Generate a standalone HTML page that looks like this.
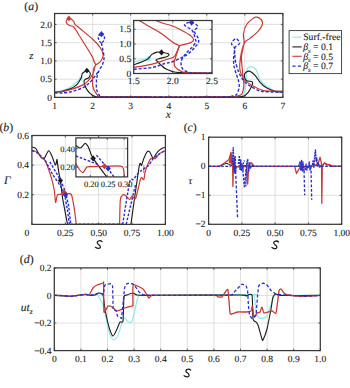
<!DOCTYPE html>
<html><head><meta charset="utf-8"><style>
html,body{margin:0;padding:0;background:#fff;}
svg{display:block;font-family:"Liberation Serif",serif;text-rendering:geometricPrecision;}
text{fill:#1c1c1c;stroke:#1c1c1c;stroke-width:0.12px;}
</style></head><body>
<svg width="350" height="388" viewBox="0 0 350 388">
<rect width="350" height="388" fill="#fff"/>
<line x1="92.7" y1="13.5" x2="92.7" y2="97.4" stroke="#d8d8d8" stroke-width="0.8"/>
<line x1="130.7" y1="13.5" x2="130.7" y2="97.4" stroke="#d8d8d8" stroke-width="0.8"/>
<line x1="168.8" y1="13.5" x2="168.8" y2="97.4" stroke="#d8d8d8" stroke-width="0.8"/>
<line x1="206.8" y1="13.5" x2="206.8" y2="97.4" stroke="#d8d8d8" stroke-width="0.8"/>
<line x1="244.8" y1="13.5" x2="244.8" y2="97.4" stroke="#d8d8d8" stroke-width="0.8"/>
<line x1="54.6" y1="79.2" x2="282.9" y2="79.2" stroke="#d8d8d8" stroke-width="0.8"/>
<line x1="54.6" y1="60.9" x2="282.9" y2="60.9" stroke="#d8d8d8" stroke-width="0.8"/>
<line x1="54.6" y1="42.7" x2="282.9" y2="42.7" stroke="#d8d8d8" stroke-width="0.8"/>
<line x1="54.6" y1="24.4" x2="282.9" y2="24.4" stroke="#d8d8d8" stroke-width="0.8"/>
<path d="M54.6 92.2C56 91.9 61.5 91 64 90.2C66.5 89.4 69.4 87.9 71.4 86.6C73.4 85.3 75.7 83 77.1 81.8C78.5 80.6 80.2 78.9 80.8 78.4" stroke="#8feaf0" stroke-width="1.4" fill="none" stroke-linejoin="round"/>
<path d="M78.6 78.6h4.4M80.8 76.4v4.4M79.2 77l3.2 3.2M79.2 80.2l3.2-3.2" stroke="#8feaf0" stroke-width="1.0" fill="none" stroke-linejoin="round"/>
<path d="M238 96.8C238.8 96.6 241.9 96.5 243 95.2C244.1 93.9 245 90.2 245.5 88C246 85.8 246 83.1 246.2 80.5C246.4 77.9 246.1 72.6 246.7 70.5C247.3 68.4 248.6 66.8 250 66.6C251.4 66.4 254.4 67.4 255.9 69.4C257.4 71.4 258.6 77.5 260.1 80C261.6 82.5 263.8 84.2 266 85.8C268.2 87.4 272.1 89.9 274.6 90.8C277.1 91.7 281.7 91.8 282.9 92" stroke="#8feaf0" stroke-width="1.3" fill="none" stroke-linejoin="round"/>
<path d="M54.6 92.3C55.7 92.1 59.6 91.7 62 91.2C64.4 90.7 68 89.9 70.3 88.9C72.6 87.9 75.5 85.9 77.1 84.3C78.7 82.7 80.3 79.6 81.1 78C81.9 76.4 81.8 74.6 82.3 73.6C82.8 72.6 83.9 72 84.6 71.6C85.3 71.1 86.2 70.5 86.9 70.6C87.7 70.7 89.1 71.4 89.6 72C90.1 72.6 90.5 73.6 90.3 74.5C90.1 75.4 89.3 77.1 88.6 77.8C87.9 78.5 86.4 78.6 85.7 79.1C85 79.6 84.2 80.1 84.1 81C84 81.9 84.3 83.6 84.8 85C85.3 86.4 86.3 88.9 87.4 90.4C88.5 91.9 90.7 94.1 92 95C93.3 95.9 94.3 96.4 96 96.7C97.7 97 94.9 96.9 103 96.9C111.1 96.9 142.9 96.9 150 96.9" stroke="#1c1c1c" stroke-width="1.15" fill="none" stroke-linejoin="round"/>
<path d="M200 96.9C205.4 96.9 229.5 96.9 236 96.8C242.5 96.7 241.6 96.9 243.4 96.3C245.2 95.7 246.8 94 248 92.6C249.2 91.2 250.6 88.4 251.3 87C252 85.6 252.6 84.1 252.7 83.3C252.8 82.5 252.8 81.9 251.8 81.5C250.8 81.1 247.3 81.5 246.2 80.5C245.1 79.5 244.3 76.3 244.3 75C244.3 73.7 245.7 72.6 246.5 72C247.3 71.4 248.6 70.7 249.9 71.3C251.2 71.9 254 74.2 255.5 75.9C257 77.6 258.5 80.6 260.1 82.4C261.7 84.2 263.8 86.2 266 87.6C268.2 88.9 272.1 90.7 274.6 91.4C277.1 92.1 281.7 92 282.9 92.1" stroke="#1c1c1c" stroke-width="1.15" fill="none" stroke-linejoin="round"/>
<path d="M54.6 92.3C55.6 92.2 59.6 92 62 91.6C64.4 91.2 68.5 90.3 71.4 89.4C74.3 88.5 80.5 86.2 82.9 84.9C85.3 83.6 87.2 81.9 88.6 80.3C90 78.7 92.2 75.3 93.1 73.4C94 71.5 94.6 67.9 94.9 66.6C95.2 65.3 95.7 64.6 95.6 64C95.5 63.4 94.9 63.3 94.4 62.2C93.9 61.1 93.4 58.8 92.1 56.4C90.8 54 87.2 48.2 85.2 45C83.2 41.8 79.5 35.8 78 33.5C76.5 31.2 75.5 29.3 74.8 28.3C74.1 27.3 73.5 26.7 72.8 26.3C72.1 25.9 70.4 26.1 69.5 25.6C68.6 25.1 66.6 23.5 66.3 22.6C66 21.7 66.8 19.8 67.4 19.2C68 18.6 69.6 18.3 70.5 18.6C71.4 18.9 72.9 20.4 73.6 21.2C74.3 22 74.3 23.6 75.2 24.6C76.1 25.6 77.5 26.4 80 28.5C82.5 30.6 90.1 36.8 93 39.5C95.9 42.2 99.1 45.8 100.5 48C101.9 50.2 103.2 53.6 103.2 55.5C103.2 57.4 101.5 60.2 100.5 61.5C99.5 62.8 97.1 63.7 96.2 64.6C95.3 65.5 94.4 66.7 94 68C93.6 69.3 93.2 71.6 93 74C92.8 76.4 92.4 82.6 92.6 84.9C92.8 87.2 93.6 89.2 94.3 90.6C95 92 96.5 94.2 97.7 95.1C98.9 96 94.3 96.5 103 96.7C111.7 96.9 152 96.8 160 96.8" stroke="#c83a36" stroke-width="1.2" fill="none" stroke-linejoin="round"/>
<path d="M160 96.8C169.8 96.8 213.9 96.7 225 96.7C236.1 96.7 231.7 97.1 234 96.8C236.3 96.5 239.2 95.6 240.5 95C241.8 94.4 242 94.1 242.5 92.6C243 91.1 243.8 87.4 243.9 85.2C244 83 243.5 80.6 243.2 78C242.9 75.4 242.5 71.3 242.2 68C241.9 64.7 241.2 59.8 241.5 56C241.8 52.2 243.8 46.1 244.1 42.8C244.4 39.5 243 36.8 243.4 34C243.8 31.2 245.2 26.5 247 24C248.8 21.5 253.4 17.8 255.6 17.2C257.8 16.6 260.5 18.8 261.5 20C262.5 21.2 262.6 23.7 262 25.5C261.4 27.3 259.3 29.9 257.5 31.8C255.7 33.7 251.9 36.8 250 38.4C248.1 40 245.9 40.4 244.6 42.6C243.3 44.8 242 49.8 241.3 53C240.6 56.2 240 61.3 239.8 64C239.6 66.7 239.5 69 240.2 71.3C240.9 73.6 242.6 77.5 244.3 79.6C246 81.7 248.9 83.5 251.8 85.2C254.7 86.9 259.1 89.7 263.8 90.6C268.5 91.5 280 91.1 282.9 91.2" stroke="#c83a36" stroke-width="1.2" fill="none" stroke-linejoin="round"/>
<path d="M54.6 92.9C55.6 92.9 59.6 93.2 62 93C64.4 92.8 68.5 92.4 71.4 91.7C74.3 91 80.3 89 82.9 87.7C85.5 86.4 88 84.3 89.7 82.6C91.5 80.9 94.1 77.4 95.4 75.7C96.7 74 98.4 71.2 98.9 70.5" stroke="#2d30c8" stroke-width="1.4" fill="none" stroke-linejoin="round" stroke-dasharray="3 1.8"/>
<path d="M101.4 43C97.3 40.5 97.3 34.2 101.4 33.4C105.5 34.2 105.5 40.5 101.4 43" stroke="#2d30c8" stroke-width="1.4" fill="none" stroke-linejoin="round" stroke-dasharray="2.6 1.5"/>
<path d="M101.4 43C101.7 44.3 103 50.4 103.4 52.6C103.8 54.8 104.2 57.1 104 58.9C103.8 60.6 103 63.4 102.3 65.1C101.6 66.8 99.7 68.9 98.9 70.9C98.1 72.9 96.9 76.5 96.6 79.1C96.3 81.7 96.2 87.2 96.6 89.4C97 91.6 98.4 94.1 99.4 95.1C100.4 96.1 95.5 96.5 104 96.8C112.5 97.1 152.2 96.9 160 96.9" stroke="#2d30c8" stroke-width="1.4" fill="none" stroke-linejoin="round" stroke-dasharray="3 1.8"/>
<path d="M160 96.9C169.9 96.9 215.2 96.9 226 96.8C236.8 96.7 230.1 96.5 231.7 96.2C233.3 95.9 235.4 95.9 236.5 94.5C237.6 93.1 238.9 89.2 239.2 87C239.5 84.8 238.8 82 238.3 80C237.9 78 236.8 76.1 236.2 74C235.6 71.9 234.4 68.4 234 66C233.6 63.6 233.5 60.6 233.6 58C233.7 55.4 234.9 50.7 234.6 48.5C234.3 46.3 231.3 45.1 231.5 43.6C231.7 42.1 234.6 38.7 235.8 38.6C237 38.5 239.7 41.9 239.6 43.2C239.5 44.5 235.7 45.9 235 47.5C234.3 49.1 234.7 51.8 234.8 54C234.9 56.2 235 59.3 235.6 62C236.2 64.7 237.7 69.6 238.6 72C239.5 74.4 240.5 76.1 241.6 77.8C242.7 79.5 244.7 81.9 246.2 83.3C247.7 84.7 249.6 85.8 251.8 87C254 88.2 257.8 90.5 261 91.2C264.2 92 269.6 91.9 272.9 92C276.2 92.1 281.4 92.1 282.9 92.1" stroke="#2d30c8" stroke-width="1.4" fill="none" stroke-linejoin="round" stroke-dasharray="3 1.8"/>
<path d="M68.9 15.5L71.4 18.4L68.9 21.3L66.4 18.4Z" fill="#c83a36"/>
<path d="M101.4 31.1L104.1 34.2L101.4 37.3L98.7 34.2Z" fill="#2d30c8"/>
<path d="M86.9 67.7L89.4 70.6L86.9 73.5L84.4 70.6Z" fill="#1c1c1c"/>
<path d="M54.6 97.4v-2M54.6 13.5v2M92.7 97.4v-2M92.7 13.5v2M130.7 97.4v-2M130.7 13.5v2M168.8 97.4v-2M168.8 13.5v2M206.8 97.4v-2M206.8 13.5v2M244.8 97.4v-2M244.8 13.5v2M282.9 97.4v-2M282.9 13.5v2M54.6 97.4h2M282.9 97.4h-2M54.6 79.2h2M282.9 79.2h-2M54.6 60.9h2M282.9 60.9h-2M54.6 42.7h2M282.9 42.7h-2M54.6 24.4h2M282.9 24.4h-2" stroke="#383838" stroke-width="0.8" fill="none"/>
<rect x="54.6" y="13.5" width="228.3" height="83.9" fill="none" stroke="#383838" stroke-width="1.25"/>
<text x="54.6" y="109.4" text-anchor="middle" font-size="9.5" >1</text>
<text x="92.7" y="109.4" text-anchor="middle" font-size="9.5" >2</text>
<text x="130.7" y="109.4" text-anchor="middle" font-size="9.5" >3</text>
<text x="168.8" y="109.4" text-anchor="middle" font-size="9.5" >4</text>
<text x="206.8" y="109.4" text-anchor="middle" font-size="9.5" >5</text>
<text x="244.8" y="109.4" text-anchor="middle" font-size="9.5" >6</text>
<text x="282.9" y="109.4" text-anchor="middle" font-size="9.5" >7</text>
<text x="52" y="100.5" text-anchor="end" font-size="9.5" >0</text>
<text x="52" y="82.2" text-anchor="end" font-size="9.5" >0.5</text>
<text x="52" y="64" text-anchor="end" font-size="9.5" >1.0</text>
<text x="52" y="45.8" text-anchor="end" font-size="9.5" >1.5</text>
<text x="52" y="27.5" text-anchor="end" font-size="9.5" >2.0</text>
<text x="168.3" y="118" text-anchor="middle" font-size="11.5" font-style="italic">x</text>
<text x="31.4" y="58.8" text-anchor="middle" font-size="10.8" font-style="italic">z</text>
<text x="31.2" y="10.4" text-anchor="middle" font-size="11.8">(<tspan font-style="italic">a</tspan>)</text>
<rect x="133.7" y="20.5" width="78.3" height="53" fill="#fff"/>
<line x1="172.8" y1="20.5" x2="172.8" y2="73.5" stroke="#d8d8d8" stroke-width="0.8"/>
<line x1="133.7" y1="58.8" x2="212" y2="58.8" stroke="#d8d8d8" stroke-width="0.8"/>
<line x1="133.7" y1="44" x2="212" y2="44" stroke="#d8d8d8" stroke-width="0.8"/>
<line x1="133.7" y1="29.3" x2="212" y2="29.3" stroke="#d8d8d8" stroke-width="0.8"/>
<path d="M133.9 61.8C135.7 61.4 142 59.9 144.4 59.4C146.8 58.9 147.7 59 148.4 58.9" stroke="#8feaf0" stroke-width="1.25" fill="none" stroke-linejoin="round"/>
<path d="M145.6 58.9h5.6M148.4 56.1v5.6M146.4 56.9l4 4M146.4 60.9l4-4" stroke="#8feaf0" stroke-width="1.1" fill="none" stroke-linejoin="round"/>
<path d="M133.9 64.6C135.3 64.1 139.8 62.8 142.1 61.8C144.4 60.8 146.3 60.1 147.9 58.9C149.5 57.7 150.4 55.5 151.9 54.4C153.4 53.3 155.4 52.5 157 52.1C158.6 51.8 159.7 52 161.6 52.3C163.5 52.6 167.6 53.3 168.6 54C169.6 54.7 168.7 55.9 167.3 56.6C165.9 57.3 161.9 57.8 160 58.4C158.1 59 156.3 59.4 156 60C155.7 60.6 157 61 158 62C159 63 160.7 64.8 162 66C163.3 67.2 164.4 68.2 166.1 69.1C167.8 70 169.7 70.8 172 71.4C174.3 72 173.3 72.3 180 72.6C186.7 72.9 206.7 73 212 73.1" stroke="#1c1c1c" stroke-width="1.15" fill="none" stroke-linejoin="round"/>
<path d="M133.9 67.4C135.8 67.1 141.3 66.3 145 65.6C148.7 64.9 152.6 64.1 155.9 63.2C159.2 62.3 162.1 61 165 60C167.9 59 171.5 58.3 173.4 57.2C175.3 56.1 175.4 54.8 176.2 53.4C177 52 177.7 49.9 178.3 48.6C178.9 47.3 179.5 46.3 179.7 45.8" stroke="#c83a36" stroke-width="1.2" fill="none" stroke-linejoin="round"/>
<path d="M139.3 20.5C141.1 21.6 146.2 24.8 150 27C153.8 29.2 158.2 31.4 162 34C165.8 36.6 170.5 40.7 173 42.4C175.5 44.1 175.8 43.6 176.9 44.2C178 44.8 179.1 45.6 179.5 45.9" stroke="#c83a36" stroke-width="1.2" fill="none" stroke-linejoin="round"/>
<path d="M155.3 20.5C156.6 20.9 160.2 22.3 163 23.2C165.8 24.1 169.1 24.7 172 25.8C174.9 26.9 177.4 28.2 180.4 29.8C183.4 31.4 187.9 33.7 190.1 35.3C192.3 36.9 193.4 38.3 193.6 39.5C193.8 40.7 193 41.5 191.5 42.3C190 43.1 186.5 43.8 184.5 44.4C182.5 45 180.8 44.9 179.7 45.8C178.6 46.7 178.7 48 178 50C177.3 52 176.2 55.4 175.5 57.6C174.8 59.8 174.1 61.6 174.1 63.2C174.1 64.8 174.4 66.1 175.5 67.4C176.6 68.7 178.4 70 180.4 70.9C182.4 71.8 182 72.3 187.3 72.7C192.6 73.1 207.9 73.1 212 73.2" stroke="#c83a36" stroke-width="1.2" fill="none" stroke-linejoin="round"/>
<path d="M133.9 69.2C137 68.9 147.2 68.4 152.4 67.4C157.6 66.5 161.7 64.4 165 63.5C168.3 62.6 169.2 62.8 172 61.8C174.8 60.8 179.2 58.8 182 57.4C184.8 56 186.6 55 188.7 53.4C190.8 51.8 192.7 49.8 194.3 47.9C195.9 46 197.9 44 198.5 42.3C199.1 40.5 198.5 39.3 197.8 37.4C197.1 35.5 194.3 33 194.3 31.1C194.3 29.2 198.3 27.8 197.8 26.3C197.3 24.8 193.7 22.5 191.5 22.3C189.3 22.1 184.4 23.5 184.5 24.9C184.6 26.3 190.4 28.3 192.2 30.5C193.9 32.7 194.4 36.1 195 38.1C195.6 40.1 196.3 40.7 195.7 42.3C195.1 43.9 193.1 46 191.5 47.9C189.9 49.8 187.5 51.4 185.9 53.4C184.3 55.4 182.6 57.8 181.8 59.7C181 61.6 180.9 63 181.1 64.6C181.3 66.2 181.8 68.2 183.1 69.5C184.4 70.8 186.7 71.7 188.7 72.3C190.7 72.9 191.1 72.9 195 73.1C198.9 73.2 209.2 73.2 212 73.2" stroke="#2d30c8" stroke-width="1.4" fill="none" stroke-linejoin="round" stroke-dasharray="3 1.8"/>
<path d="M191.6 19.5L194.3 22.6L191.6 25.7L188.9 22.6Z" fill="#2d30c8"/>
<path d="M161.5 49.3L164.2 52.4L161.5 55.5L158.8 52.4Z" fill="#1c1c1c"/>
<path d="M133.7 73.5v-2M133.7 20.5v2M172.8 73.5v-2M172.8 20.5v2M212 73.5v-2M212 20.5v2M133.7 73.5h2M212 73.5h-2M133.7 58.8h2M212 58.8h-2M133.7 44h2M212 44h-2M133.7 29.3h2M212 29.3h-2" stroke="#383838" stroke-width="0.8" fill="none"/>
<rect x="133.7" y="20.5" width="78.3" height="53" fill="none" stroke="#383838" stroke-width="1.25"/>
<text x="133.7" y="84" text-anchor="middle" font-size="9.5" >1.5</text>
<text x="172.8" y="84" text-anchor="middle" font-size="9.5" >2.0</text>
<text x="212" y="84" text-anchor="middle" font-size="9.5" >2.5</text>
<text x="131.2" y="76.6" text-anchor="end" font-size="9.5" >0</text>
<text x="131.2" y="61.9" text-anchor="end" font-size="9.5" >0.5</text>
<text x="131.2" y="47.1" text-anchor="end" font-size="9.5" >1.0</text>
<text x="131.2" y="32.4" text-anchor="end" font-size="9.5" >1.5</text>
<rect x="289.1" y="30.6" width="52.5" height="43" fill="#fff" stroke="#383838" stroke-width="0.9"/>
<line x1="292.4" y1="37.2" x2="301.7" y2="37.2" stroke="#8ee8ee" stroke-width="1.1"/>
<text x="303.2" y="40.4" text-anchor="start" font-size="9.7" >Surf.-free</text>
<line x1="292.4" y1="46.9" x2="301.7" y2="46.9" stroke="#1e1e1e" stroke-width="1.1"/>
<text x="303.2" y="50.1" font-size="9.7"><tspan font-style="italic">β</tspan><tspan font-style="italic" font-size="6.8" dy="2.4">s</tspan><tspan dy="-2.4"> = 0.1</tspan></text>
<line x1="292.4" y1="56.3" x2="301.7" y2="56.3" stroke="#cf3a36" stroke-width="1.1"/>
<text x="303.2" y="59.5" font-size="9.7"><tspan font-style="italic">β</tspan><tspan font-style="italic" font-size="6.8" dy="2.4">s</tspan><tspan dy="-2.4"> = 0.5</tspan></text>
<line x1="292.4" y1="66.1" x2="301.7" y2="66.1" stroke="#2b2fd6" stroke-width="1.1" stroke-dasharray="3.2 2.2"/>
<text x="303.2" y="69.3" font-size="9.7"><tspan font-style="italic">β</tspan><tspan font-style="italic" font-size="6.8" dy="2.4">s</tspan><tspan dy="-2.4"> = 0.7</tspan></text>
<line x1="65.3" y1="135.5" x2="65.3" y2="224.4" stroke="#d8d8d8" stroke-width="0.8"/>
<line x1="98.7" y1="135.5" x2="98.7" y2="224.4" stroke="#d8d8d8" stroke-width="0.8"/>
<line x1="132" y1="135.5" x2="132" y2="224.4" stroke="#d8d8d8" stroke-width="0.8"/>
<line x1="31.9" y1="194.8" x2="165.4" y2="194.8" stroke="#d8d8d8" stroke-width="0.8"/>
<line x1="31.9" y1="165.1" x2="165.4" y2="165.1" stroke="#d8d8d8" stroke-width="0.8"/>
<path d="M32 147.1C32.4 147.3 34.8 147.5 35.7 148.4C36.6 149.3 38.4 153.2 39.3 154.5C40.2 155.8 42.5 159.4 43.6 159C44.7 158.6 47.6 151.2 48.6 150.8C49.6 150.4 51.1 154.3 51.9 156C52.7 157.7 54.7 164.6 55.3 165C55.9 165.4 56.8 160.1 57 159.4L57 159.4L58.7 171.9L60.4 180.4L62.7 199L67.5 224.3" stroke="#1c1c1c" stroke-width="1.15" fill="none" stroke-linejoin="round"/>
<path d="M130.9 224.3C131.4 220.8 134 201.9 135 195C136 188.1 138.5 170.5 139.1 166.7C139.7 162.9 140 163.3 140.3 163.2C140.6 163.1 141.1 166.1 141.5 165.5C141.9 164.9 143.3 159.7 144 158C144.7 156.3 146.6 152.3 147.3 151.6C148 150.9 149 151.1 149.7 151.9C150.4 152.7 152.4 158 153.2 158.3C154 158.6 155.3 155 156 154C156.7 153 158.3 151 159.1 150.3C159.9 149.6 161.9 148.2 162.6 147.9C163.3 147.6 164.9 147.5 165.2 147.5" stroke="#1c1c1c" stroke-width="1.1" fill="none" stroke-linejoin="round"/>
<path d="M32 150C32.5 150.2 36.2 151.3 37.1 152.1C38 152.9 40.7 157.2 41.4 157.9C42.1 158.6 43.6 158.3 44.3 159.4C45 160.5 47.8 167 48.5 169C49.2 171 51.2 177.3 51.8 179.4C52.4 181.5 53.8 187.7 54.2 190C54.6 192.3 55.3 202 55.6 202.5C55.9 203 56.9 195.8 57.3 195C57.7 194.2 59.3 194.4 60 194.3C60.7 194.2 63.5 194.1 64.6 194.1C65.7 194.1 70.3 192.8 71.3 194.3C72.3 195.8 73.8 205.8 74.3 208.8C74.8 211.8 76.1 222.8 76.3 224.3" stroke="#c83a36" stroke-width="1.2" fill="none" stroke-linejoin="round"/>
<path d="M76.3 224.3L120.7 224.3" stroke="#c83a36" stroke-width="1.2" fill="none" stroke-linejoin="round"/>
<path d="M119.6 224.3C119.7 221.4 119.9 203.5 120.3 200C120.7 196.5 122 195.4 122.7 194.9C123.4 194.4 125.2 195.4 126 196C126.8 196.6 129 199.6 129.7 199.6C130.4 199.6 131.4 196.1 132.1 196C132.8 195.9 134.6 200.4 135.6 198.4C136.6 196.4 139.6 182.1 140.3 179.6C141 177.1 141.1 177.3 141.5 177.3C141.9 177.3 143.4 180.2 143.8 179.6C144.2 179 144.6 174.3 145 172.6C145.4 170.9 146.6 167.2 147.3 165.5C148 163.8 149.9 159.3 150.9 158.5C151.9 157.7 154.6 159.1 155.6 158.5C156.6 157.9 157.9 154.7 159.1 153.8C160.3 152.9 164.5 151.2 165.2 150.8" stroke="#c83a36" stroke-width="1.2" fill="none" stroke-linejoin="round"/>
<path d="M143.8 165.5L143.8 173" stroke="#c83a36" stroke-width="0.8" fill="none" stroke-linejoin="round"/>
<path d="M32 150.7C32.4 150.9 36.1 152.2 37.1 152.9C38.1 153.6 43.7 158.1 44.9 159.8C46.1 161.5 51.4 172.4 52.7 174.5C54 176.6 59.7 184.7 60.6 186.3C61.5 187.9 63.9 192.1 64.5 194.1C65.1 196.1 67.1 208.4 67.5 210.8C67.9 213.2 69.2 223.2 69.4 224.3" stroke="#2d30c8" stroke-width="1.4" fill="none" stroke-linejoin="round" stroke-dasharray="2.6 1.6"/>
<path d="M49.8 161.8L56.7 173.5L61.6 182.4L65.5 192.2L68.5 205L70.8 224.3" stroke="#2d30c8" stroke-width="1.4" fill="none" stroke-linejoin="round" stroke-dasharray="2.6 1.6"/>
<path d="M70.3 224.3L124.3 224.3" stroke="#2d30c8" stroke-width="1.4" fill="none" stroke-linejoin="round" stroke-dasharray="2.6 1.6"/>
<path d="M122.7 224.3C123.5 219.2 128.4 187.4 129.7 182C131 176.6 132.4 180.5 133.3 179.6C134.2 178.7 135.8 176.1 136.8 174.9C137.8 173.7 140.6 171.1 142 170C143.4 168.9 147.2 166.9 148.5 165.5C149.8 164.1 152.1 159.8 153.2 158.5C154.3 157.2 156.6 156 158 155C159.4 154 164.3 150.8 165.2 150.2" stroke="#2d30c8" stroke-width="1.4" fill="none" stroke-linejoin="round" stroke-dasharray="2.6 1.6"/>
<path d="M126.2 224.3L135.6 184.3" stroke="#2d30c8" stroke-width="1.4" fill="none" stroke-linejoin="round" stroke-dasharray="2.6 1.6"/>
<path d="M60.4 177.5L63 180.5L60.4 183.5L57.8 180.5Z" fill="#1c1c1c"/>
<path d="M64.4 189.8L67 192.8L64.4 195.8L61.8 192.8Z" fill="#c83a36"/>
<path d="M65.5 192.1L68.1 195.1L65.5 198.1L62.9 195.1Z" fill="#2d30c8"/>
<path d="M31.9 224.4v-2M31.9 135.5v2M65.3 224.4v-2M65.3 135.5v2M98.7 224.4v-2M98.7 135.5v2M132 224.4v-2M132 135.5v2M165.4 224.4v-2M165.4 135.5v2M31.9 224.4h2M165.4 224.4h-2M31.9 194.8h2M165.4 194.8h-2M31.9 165.1h2M165.4 165.1h-2M31.9 135.5h2M165.4 135.5h-2" stroke="#383838" stroke-width="0.8" fill="none"/>
<rect x="31.9" y="135.5" width="133.5" height="88.9" fill="none" stroke="#383838" stroke-width="1.25"/>
<text x="26.9" y="236.4" text-anchor="middle" font-size="9.5" >0</text>
<text x="65.3" y="236.4" text-anchor="middle" font-size="9.5" >0.25</text>
<text x="98.7" y="236.4" text-anchor="middle" font-size="9.5" >0.50</text>
<text x="132" y="236.4" text-anchor="middle" font-size="9.5" >0.75</text>
<text x="165.4" y="236.4" text-anchor="middle" font-size="9.5" >1.00</text>
<text x="29" y="197.9" text-anchor="end" font-size="9.5" >0.2</text>
<text x="29" y="168.2" text-anchor="end" font-size="9.5" >0.4</text>
<text x="29" y="138.6" text-anchor="end" font-size="9.5" >0.6</text>
<text x="7.2" y="184" text-anchor="middle" font-size="11.5" font-style="italic">Γ</text>
<text x="6.3" y="131.2" text-anchor="middle" font-size="11.8">(<tspan font-style="italic">b</tspan>)</text>
<rect x="75.9" y="137.9" width="51.7" height="39" fill="#fff"/>
<line x1="90.3" y1="137.9" x2="90.3" y2="176.9" stroke="#d8d8d8" stroke-width="0.8"/>
<line x1="107.2" y1="137.9" x2="107.2" y2="176.9" stroke="#d8d8d8" stroke-width="0.8"/>
<line x1="124.1" y1="137.9" x2="124.1" y2="176.9" stroke="#d8d8d8" stroke-width="0.8"/>
<line x1="75.9" y1="148.7" x2="127.6" y2="148.7" stroke="#d8d8d8" stroke-width="0.8"/>
<line x1="75.9" y1="167" x2="127.6" y2="167" stroke="#d8d8d8" stroke-width="0.8"/>
<path d="M75.9 145.6C76.7 146 78.9 148.4 80.4 148C82 147.6 83.9 143.5 85.2 143.4C86.5 143.3 87.1 144.7 88.4 147.2C89.7 149.7 90.1 153.4 93.2 158.4C96.3 163.4 104.5 173.8 106.8 176.9" stroke="#1c1c1c" stroke-width="1.15" fill="none" stroke-linejoin="round"/>
<path d="M75.9 163.5C76.2 164.1 78 167.4 78.8 168.5C79.6 169.6 81.9 172.6 82.8 172.6C83.7 172.6 85.3 168.9 86 168.2C86.7 167.5 86.1 166.8 88.4 166.6C90.7 166.4 101.2 166.4 105.2 166.4C109.2 166.4 119.7 165.1 122 166.4C124.3 167.7 124.1 175.6 124.4 176.9" stroke="#c83a36" stroke-width="1.2" fill="none" stroke-linejoin="round"/>
<path d="M75.9 156L98 164.5" stroke="#2d30c8" stroke-width="1.4" fill="none" stroke-linejoin="round" stroke-dasharray="2.6 1.6"/>
<path d="M96.4 155.2L107.6 168L114 176.9" stroke="#2d30c8" stroke-width="1.4" fill="none" stroke-linejoin="round" stroke-dasharray="2.6 1.6"/>
<path d="M93.2 155.3L95.9 158.4L93.2 161.5L90.5 158.4Z" fill="#1c1c1c"/>
<path d="M104.4 163.3L107 166.3L104.4 169.3L101.8 166.3Z" fill="#c83a36"/>
<path d="M108.2 165.4L110.8 168.4L108.2 171.4L105.6 168.4Z" fill="#2d30c8"/>
<path d="M90.3 176.9v-2M90.3 137.9v2M107.2 176.9v-2M107.2 137.9v2M124.1 176.9v-2M124.1 137.9v2M75.9 148.7h2M127.6 148.7h-2M75.9 167h2M127.6 167h-2" stroke="#383838" stroke-width="0.8" fill="none"/>
<rect x="75.9" y="137.9" width="51.7" height="39" fill="none" stroke="#383838" stroke-width="1.25"/>
<text x="91.3" y="187" text-anchor="middle" font-size="8.4" >0.20</text>
<text x="108.2" y="187" text-anchor="middle" font-size="8.4" >0.25</text>
<text x="125.1" y="187" text-anchor="middle" font-size="8.4" >0.30</text>
<text x="74.9" y="151.8" text-anchor="end" font-size="8.4" >0.40</text>
<text x="74.9" y="170.1" text-anchor="end" font-size="8.4" >0.20</text>
<line x1="241.9" y1="137.2" x2="241.9" y2="224.3" stroke="#d8d8d8" stroke-width="0.8"/>
<line x1="275.1" y1="137.2" x2="275.1" y2="224.3" stroke="#d8d8d8" stroke-width="0.8"/>
<line x1="308.4" y1="137.2" x2="308.4" y2="224.3" stroke="#d8d8d8" stroke-width="0.8"/>
<line x1="208.6" y1="195.3" x2="341.7" y2="195.3" stroke="#d8d8d8" stroke-width="0.8"/>
<line x1="208.6" y1="166.2" x2="341.7" y2="166.2" stroke="#d8d8d8" stroke-width="0.8"/>
<path d="M208.6 166.3C210.2 166.3 215.8 166.5 218 166.3C220.2 166.1 220.7 165.7 222 165.2C223.3 164.7 224.7 163.6 226 163.5C227.3 163.4 228.8 164.4 230 164.8C231.2 165.2 231.3 165.6 233 166C234.7 166.4 238 167.1 240 167C242 166.9 243.3 165.6 245 165.5C246.7 165.4 248.3 166.4 250 166.5C251.7 166.6 247 166.3 255 166.3C263 166.3 289.7 166.3 298 166.3C306.3 166.3 302.2 166.6 305 166.5C307.8 166.4 312.5 165.6 315 165.5C317.5 165.4 318.3 166.3 320 166C321.7 165.7 323.3 163.6 325 163.5C326.7 163.4 328.3 165.1 330 165.5C331.7 165.9 333.1 166.1 335 166.2C336.9 166.3 340.6 166.3 341.7 166.3" stroke="#1c1c1c" stroke-width="1.0" fill="none" stroke-linejoin="round"/>
<path d="M208.6 166.3L219 166.3L222 164.5L225.2 162.6L229 159.4L231 152.3L232.3 160L232.6 166.3L232.9 186.5L233.4 166.3L236 167L240 165.5L244 167L246.5 166L247.2 176L247.7 184L248.5 170L249.5 165L251 162.6L252.5 164L254.2 166.3L294.7 166.3L296.5 173.5L300.1 167.1L303 166.3L310 166.5L314 165.5L318 164L320 157.2L321.2 162L321.6 166.3L321.8 203.3L322.3 166.3L324.5 162.6L326.5 165L329.1 164.4L333 166.3L341.7 166.3" stroke="#c83a36" stroke-width="1.3" fill="none" stroke-linejoin="round"/>
<path d="M228.6 163L231 152L232.6 164Z" fill="#c83a36"/>
<path d="M208.6 166.3L230 166.3" stroke="#2d30c8" stroke-width="1.2" fill="none" stroke-linejoin="round" stroke-dasharray="2.6 1.6"/>
<path d="M252 166.3L298.5 166.3" stroke="#2d30c8" stroke-width="1.2" fill="none" stroke-linejoin="round" stroke-dasharray="2.6 1.6"/>
<path d="M321 166.3L341.7 166.3" stroke="#2d30c8" stroke-width="1.2" fill="none" stroke-linejoin="round" stroke-dasharray="2.6 1.6"/>
<path d="M230 166.3L232 165L233.3 147.7L233.8 170L234.3 158L234.7 173L235.2 156L235.7 172L236.2 166.3" stroke="#2d30c8" stroke-width="1.4" fill="none" stroke-linejoin="round" stroke-dasharray="2 0.7"/>
<path d="M238.3 164L239.4 155.5L240 170L240.8 160L241.3 171L242 164L243 170L243.6 162L244.5 160.5" stroke="#2d30c8" stroke-width="1.3" fill="none" stroke-linejoin="round" stroke-dasharray="2 1"/>
<path d="M245.8 186.5L246.7 163L247.7 159.4L248.6 172L249.5 163L250.5 168L252 165L254 166.3" stroke="#2d30c8" stroke-width="1.4" fill="none" stroke-linejoin="round" stroke-dasharray="2 0.7"/>
<path d="M298.5 166.3L300 162L300.8 170L301.5 160.5L302.3 171L303 162L303.6 168L304.2 172" stroke="#2d30c8" stroke-width="1.4" fill="none" stroke-linejoin="round" stroke-dasharray="2 0.7"/>
<path d="M305.3 170L306 164L306.8 170L307.6 166L308.5 168L309.3 162L310 170L311 166" stroke="#2d30c8" stroke-width="1.4" fill="none" stroke-linejoin="round" stroke-dasharray="2 0.7"/>
<path d="M312.4 165L313.2 160L313.8 168L314.6 156L315.5 150L316.1 162L316.8 158L317.5 166L318.5 163L319.5 167L321 166.3" stroke="#2d30c8" stroke-width="1.4" fill="none" stroke-linejoin="round" stroke-dasharray="2 0.7"/>
<path d="M235.4 166.3L237.6 218.6" stroke="#2d30c8" stroke-width="1.35" fill="none" stroke-linejoin="round" stroke-dasharray="3 1.8"/>
<path d="M242.5 166L244.3 186.8L246.5 166" stroke="#2d30c8" stroke-width="1.35" fill="none" stroke-linejoin="round" stroke-dasharray="2.6 1.4"/>
<path d="M303.9 166L304.7 195.2" stroke="#2d30c8" stroke-width="1.35" fill="none" stroke-linejoin="round" stroke-dasharray="2.8 1.8"/>
<path d="M310.9 166L311.7 199.7" stroke="#2d30c8" stroke-width="1.35" fill="none" stroke-linejoin="round" stroke-dasharray="2.8 1.8"/>
<path d="M208.6 224.3v-2M208.6 137.2v2M241.9 224.3v-2M241.9 137.2v2M275.1 224.3v-2M275.1 137.2v2M308.4 224.3v-2M308.4 137.2v2M341.7 224.3v-2M341.7 137.2v2M208.6 224.3h2M341.7 224.3h-2M208.6 195.3h2M341.7 195.3h-2M208.6 166.2h2M341.7 166.2h-2M208.6 137.2h2M341.7 137.2h-2" stroke="#383838" stroke-width="0.8" fill="none"/>
<rect x="208.6" y="137.2" width="133.1" height="87.1" fill="none" stroke="#383838" stroke-width="1.25"/>
<text x="208.6" y="236.4" text-anchor="middle" font-size="9.5" >0</text>
<text x="241.9" y="236.4" text-anchor="middle" font-size="9.5" >0.25</text>
<text x="275.1" y="236.4" text-anchor="middle" font-size="9.5" >0.50</text>
<text x="308.4" y="236.4" text-anchor="middle" font-size="9.5" >0.75</text>
<text x="341.7" y="236.4" text-anchor="middle" font-size="9.5" >1.00</text>
<text x="205.5" y="227.4" text-anchor="end" font-size="9.5" >−2</text>
<text x="205.5" y="198.4" text-anchor="end" font-size="9.5" >−1</text>
<text x="205.5" y="169.3" text-anchor="end" font-size="9.5" >0</text>
<text x="205.5" y="140.3" text-anchor="end" font-size="9.5" >1</text>
<text x="190.3" y="183.5" text-anchor="middle" font-size="10" font-style="italic">τ</text>
<text x="190.2" y="131.4" text-anchor="middle" font-size="11.8">(<tspan font-style="italic">c</tspan>)</text>
<line x1="80.9" y1="267.9" x2="80.9" y2="350.6" stroke="#d8d8d8" stroke-width="0.8"/>
<line x1="107.5" y1="267.9" x2="107.5" y2="350.6" stroke="#d8d8d8" stroke-width="0.8"/>
<line x1="134.1" y1="267.9" x2="134.1" y2="350.6" stroke="#d8d8d8" stroke-width="0.8"/>
<line x1="160.7" y1="267.9" x2="160.7" y2="350.6" stroke="#d8d8d8" stroke-width="0.8"/>
<line x1="187.3" y1="267.9" x2="187.3" y2="350.6" stroke="#d8d8d8" stroke-width="0.8"/>
<line x1="213.9" y1="267.9" x2="213.9" y2="350.6" stroke="#d8d8d8" stroke-width="0.8"/>
<line x1="240.5" y1="267.9" x2="240.5" y2="350.6" stroke="#d8d8d8" stroke-width="0.8"/>
<line x1="267.1" y1="267.9" x2="267.1" y2="350.6" stroke="#d8d8d8" stroke-width="0.8"/>
<line x1="293.7" y1="267.9" x2="293.7" y2="350.6" stroke="#d8d8d8" stroke-width="0.8"/>
<line x1="54.3" y1="323" x2="320.3" y2="323" stroke="#d8d8d8" stroke-width="0.8"/>
<line x1="54.3" y1="295.5" x2="320.3" y2="295.5" stroke="#d8d8d8" stroke-width="0.8"/>
<path d="M54.3 295.4C55.2 295.4 60.2 295.5 62 295.6C63.8 295.7 67.8 296.3 69.7 296.3C71.6 296.3 76.1 295.6 78 295.4C79.9 295.2 84 294.4 85.4 294.4C86.8 294.4 88.7 295 90 295C91.3 295 94.9 293.8 96 294C97.1 294.2 98.2 295.7 99 297C99.8 298.3 102 301.9 103 305C104 308.1 106.2 319.4 107 323C107.8 326.6 109.2 333 110 335C110.8 337 113 340 114 340C115 340 117 337 118 335C119 333 121.2 325 122 323C122.8 321 124.3 318.1 125 318C125.7 317.9 127.2 321.6 128 322C128.8 322.4 131 323 132 321C133 319 135.2 308.1 136 305C136.8 301.9 137.3 296.4 139 295.2C140.7 294 136.7 295.5 150 295.4C163.3 295.3 237.5 294.6 250 294.6C262.5 294.6 253.3 293.2 254 295C254.7 296.8 255.4 307.2 256 310C256.6 312.8 257.8 317.2 259 318C260.2 318.8 264.6 318.6 266 317C267.4 315.4 269.9 307.6 271 305C272.1 302.4 272.7 296.4 275 295.2C277.3 294 284.6 295.4 290 295.4C295.4 295.4 316.7 295.4 320.3 295.4" stroke="#8feaf0" stroke-width="1.2" fill="none" stroke-linejoin="round"/>
<path d="M54.3 295.4C55.1 295.4 60.5 295.5 62 295.6C63.5 295.7 68.1 296.3 69.7 296.3C71.3 296.3 76.4 295.6 78 295.4C79.6 295.2 84.2 294.4 85.4 294.4C86.6 294.4 89 295.2 90 295.3C91 295.4 94.1 295.2 95 295C95.9 294.8 98.2 293 99 293C99.8 293 102.4 293.4 103 295C103.6 296.6 104.4 305.8 105 309C105.6 312.2 108.2 324.3 109 327C109.8 329.7 112.2 335.8 113 336C113.8 336.2 116.3 330.4 117 329C117.7 327.6 119.4 322.8 120 322C120.6 321.2 122.6 323.5 123 321C123.4 318.5 123.6 299.6 124 297C124.4 294.4 126.1 295.4 127 295C127.9 294.6 132 293 133 293C134 293 135.3 294.8 137 295C138.7 295.2 139.7 295.4 150 295.4C160.3 295.4 230.4 294.9 240 295C249.6 295.1 244.8 296 246 296C247.2 296 251.3 292.7 252 295C252.7 297.3 252.6 316.3 253 319C253.4 321.7 255.5 321.4 256 322C256.5 322.6 257.4 323.3 258 325C258.6 326.7 261.5 337.5 262 339C262.5 340.5 262.5 341 263 340C263.5 339 266.2 332.1 267 329C267.8 325.9 270.4 312.2 271 309C271.6 305.8 272.5 298.5 273 297C273.5 295.5 275.2 294.1 276 294C276.8 293.9 276.6 295.4 281 295.5C285.4 295.6 316.4 295.4 320.3 295.4" stroke="#1c1c1c" stroke-width="1.1" fill="none" stroke-linejoin="round"/>
<path d="M54.3 295.4C54.9 295.4 60.8 295.5 62 295.6C63.2 295.7 68.4 296.3 69.7 296.3C71 296.3 76.7 295.6 78 295.4C79.3 295.2 84.5 294.4 85.4 294.4C86.3 294.4 88.4 295.7 89 295.2C89.6 294.7 92.4 288.8 93 288C93.6 287.2 96.2 285.4 97 285C97.8 284.6 102.5 283.2 103 283C103.5 282.8 103.5 280.7 103.6 283C103.7 285.3 103.6 310.2 104 312C104.4 313.8 107.4 306.4 108 306C108.6 305.6 111.3 306.6 112 307C112.7 307.4 116 310.9 117 311C118 311.1 123.8 308.4 125 308C126.2 307.6 131.4 306.2 132 306C132.6 305.8 132.9 306.7 133 305C133.1 303.3 132.4 286.3 133.2 285C134 283.7 141.9 288.2 143 289C144.1 289.8 146.5 294.3 147 295C147.5 295.7 148.6 298 149 298C149.4 298 151.4 295.2 152 295C152.6 294.8 152 295.4 157 295.4C162 295.4 209.1 295.3 214 295.4C218.9 295.5 217.4 296.7 218 296.8C218.6 296.9 221.4 297.5 222 297C222.6 296.5 225.5 291.6 226 291C226.5 290.4 227.7 288.2 228 290C228.3 291.8 229.7 311.1 230 313C230.3 314.9 231.4 314.1 232 314C232.6 313.9 236.9 312.2 238 312C239.1 311.8 245 312.1 246 312C247 311.9 250.5 311.5 251 311C251.5 310.5 252.2 305.5 252.4 306C252.6 306.5 253.6 316.4 254 317C254.4 317.6 256.5 313.4 257 313C257.5 312.6 259.6 312.5 260 312C260.4 311.5 261.7 306.9 262 307C262.3 307.1 263.2 312.7 264 313C264.8 313.3 271 311 272 311C273 311 275.4 314.6 276 313C276.6 311.4 278.6 292.9 279 291C279.4 289.1 280.6 288.8 281 289C281.4 289.2 283.4 292.5 284 293C284.6 293.5 286.4 294.7 288 295C289.6 295.3 301.6 296.3 304.2 296.3C306.8 296.3 319 295.5 320.3 295.4" stroke="#c83a36" stroke-width="1.3" fill="none" stroke-linejoin="round"/>
<path d="M54.3 295.4C55.1 295.4 60.5 295.5 62 295.6C63.5 295.7 68.1 296.3 69.7 296.3C71.3 296.3 76.4 295.6 78 295.4C79.6 295.2 84 294.4 85.4 294.4C86.8 294.4 90.6 295.1 92 295C93.4 294.9 97.9 293.1 99 293C100.1 292.9 103 294.3 103.4 294.4L103.4 294.4L104.6 285.5L106.5 284.2L111 283.6L112.6 286L113.2 310L116 310.5L117.5 316L121.5 318.5L123.6 298L124.5 288L126 284.5L128 283.3L133 284L136 287.5L139 292L143 294.6L150 295.4L226 295.4L232 295L236 290L242 284.2L246 285.6L247.6 290L248.4 305L249.5 315.5L252 318.5L256 315.5L257.6 295L258.6 286L260.5 284L263.5 283.2L267 285L271 290.5L276 294.2L290 295.4L304.2 296.3L320.3 295.4" stroke="#2d30c8" stroke-width="1.3" fill="none" stroke-linejoin="round" stroke-dasharray="3.2 2"/>
<path d="M54.3 350.6v-2M54.3 267.9v2M80.9 350.6v-2M80.9 267.9v2M107.5 350.6v-2M107.5 267.9v2M134.1 350.6v-2M134.1 267.9v2M160.7 350.6v-2M160.7 267.9v2M187.3 350.6v-2M187.3 267.9v2M213.9 350.6v-2M213.9 267.9v2M240.5 350.6v-2M240.5 267.9v2M267.1 350.6v-2M267.1 267.9v2M293.7 350.6v-2M293.7 267.9v2M320.3 350.6v-2M320.3 267.9v2M54.3 350.6h2M320.3 350.6h-2M54.3 323h2M320.3 323h-2M54.3 295.5h2M320.3 295.5h-2M54.3 267.9h2M320.3 267.9h-2" stroke="#383838" stroke-width="0.8" fill="none"/>
<rect x="54.3" y="267.9" width="266" height="82.7" fill="none" stroke="#383838" stroke-width="1.25"/>
<text x="54.3" y="361.8" text-anchor="middle" font-size="9.5" >0</text>
<text x="80.9" y="361.8" text-anchor="middle" font-size="9.5" >0.1</text>
<text x="107.5" y="361.8" text-anchor="middle" font-size="9.5" >0.2</text>
<text x="134.1" y="361.8" text-anchor="middle" font-size="9.5" >0.3</text>
<text x="160.7" y="361.8" text-anchor="middle" font-size="9.5" >0.4</text>
<text x="187.3" y="361.8" text-anchor="middle" font-size="9.5" >0.5</text>
<text x="213.9" y="361.8" text-anchor="middle" font-size="9.5" >0.6</text>
<text x="240.5" y="361.8" text-anchor="middle" font-size="9.5" >0.7</text>
<text x="267.1" y="361.8" text-anchor="middle" font-size="9.5" >0.8</text>
<text x="293.7" y="361.8" text-anchor="middle" font-size="9.5" >0.9</text>
<text x="320.3" y="361.8" text-anchor="middle" font-size="9.5" >1.0</text>
<text x="51.5" y="353.7" text-anchor="end" font-size="9.5" >−0.4</text>
<text x="51.5" y="326.1" text-anchor="end" font-size="9.5" >−0.2</text>
<text x="51.5" y="298.6" text-anchor="end" font-size="9.5" >0</text>
<text x="51.5" y="271" text-anchor="end" font-size="9.5" >0.2</text>
<text x="20.8" y="310.9" font-size="11.5" font-style="italic">ut<tspan font-size="7.5" dy="3.4">z</tspan></text>
<text x="26.7" y="262.8" text-anchor="middle" font-size="11.8">(<tspan font-style="italic">d</tspan>)</text>
<path transform="translate(98.7 244.8)" d="M3.3 -3.1C2.6 -3.9 0.6 -4.2 -0.6 -3.6C-1.8 -3 -1.8 -1.7 -0.6 -0.8C0.8 0.2 1.9 0.9 1.7 2.3C1.5 3.8 -0.8 4.3 -3.3 2.5" fill="none" stroke="#1a1a1a" stroke-width="1.25" stroke-linecap="round"/>
<path transform="translate(275.2 245.1)" d="M3.3 -3.1C2.6 -3.9 0.6 -4.2 -0.6 -3.6C-1.8 -3 -1.8 -1.7 -0.6 -0.8C0.8 0.2 1.9 0.9 1.7 2.3C1.5 3.8 -0.8 4.3 -3.3 2.5" fill="none" stroke="#1a1a1a" stroke-width="1.25" stroke-linecap="round"/>
<path transform="translate(187.4 373.2)" d="M3.3 -3.1C2.6 -3.9 0.6 -4.2 -0.6 -3.6C-1.8 -3 -1.8 -1.7 -0.6 -0.8C0.8 0.2 1.9 0.9 1.7 2.3C1.5 3.8 -0.8 4.3 -3.3 2.5" fill="none" stroke="#1a1a1a" stroke-width="1.25" stroke-linecap="round"/>
</svg></body></html>
